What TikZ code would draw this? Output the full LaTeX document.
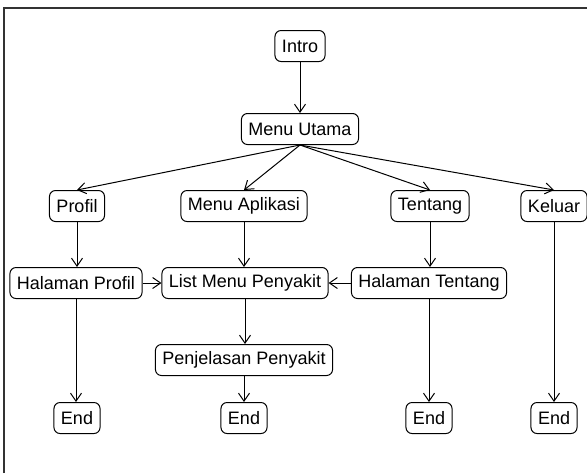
\documentclass[tikz,border=0pt]{standalone}
\usepackage{fontspec}
\setmainfont{Liberation Sans}
\usetikzlibrary{arrows.meta}

\begin{document}
\begin{tikzpicture}[x=0.5pt,y=-0.5pt,
  state/.style={draw, rounded corners=3pt, line width=0.5pt, minimum height=15.5pt,
    inner xsep=3.5pt, inner ysep=0pt, anchor=center, font=\fontsize{9}{10}\selectfont},
  >={Straight Barb[length=4pt,width=5.5pt]}]
\useasboundingbox (0,0) rectangle (587,473);
\draw[line width=1pt, black!80] (4,473) -- (4,8) -- (587,8);

\node[state] (1) at (300,46)
{Intro};

\node[state] (2) at (300,129)
{Menu Utama};

\node[state] (3) at (77,206)
{Profil};

\node[state] (4) at (244,206)
{Menu Aplikasi};

\node[state] (5) at (430,206)
{Tentang};

\node[state] (6) at (554,206)
{Keluar};

\node[state] (7) at (76,283)
{Halaman Profil};

\node[state] (8) at (245,283)
{List Menu Penyakit};

\node[state] (9) at (429,283)
{Halaman Tentang};

\node[state] (10) at (244,360)
{Penjelasan Penyakit};

\node[state] (11) at (77,418)
{End};

\node[state] (12) at (244,418)
{End};

\node[state] (13) at (429,418)
{End};

\node[state] (14) at (554,418)
{End};


\draw[->, line width=0.5pt] (1) -- (2);

\draw[->, line width=0.5pt] (2.south) -- (3.north);
\draw[->, line width=0.5pt] (2.south) -- (4.north);
\draw[->, line width=0.5pt] (2.south) -- (5.north);
\draw[->, line width=0.5pt] (2.south) -- (6.north);

\draw[->, line width=0.5pt] (3) -- (3|-7.north);
\draw[->, line width=0.5pt] (4) -- (4|-8.north);
\draw[->, line width=0.5pt] (5) -- (5|-9.north);

\draw[->, line width=0.5pt] (7) -- (8);
\draw[->, line width=0.5pt] (9) -- (8);

\draw[->, line width=0.5pt] (8) -- (8|-10.north);
\draw[->, line width=0.5pt] (10) -- (10|-12.north);

\draw[->, line width=0.5pt] (7) -- (7|-11.north);
\draw[->, line width=0.5pt] (9) -- (9|-13.north);
\draw[->, line width=0.5pt] (6) -- (6|-14.north);
\end{tikzpicture}
\end{document}
